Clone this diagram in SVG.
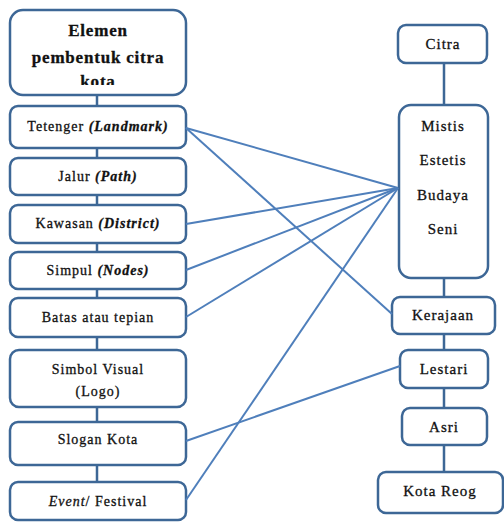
<svg xmlns="http://www.w3.org/2000/svg" width="504" height="522" viewBox="0 0 504 522">
<style>
.box{fill:#fff;stroke:#3d6796;stroke-width:2.5}
.tree{stroke:#3d6796;stroke-width:2.5;fill:none}
.link{stroke:#4f7fbb;stroke-width:2;fill:none}
text{font-family:"Liberation Serif","Times New Roman",serif;fill:#111;stroke:#111;stroke-width:0.3;text-anchor:middle}
.l{font-size:14px;letter-spacing:1px}
.r{font-size:15px;letter-spacing:1px}
.t{font-size:17px;font-weight:bold;letter-spacing:0.8px}
.bi{font-style:italic;font-weight:bold}
.i{font-style:italic}
</style>
<defs>
<clipPath id="tc"><rect x="10" y="10" width="176" height="75"/></clipPath>
</defs>
<g id="tree-lines">
<line class="tree" x1="97" y1="95" x2="97" y2="482"/>
<line class="tree" x1="444" y1="63" x2="444" y2="472"/>
</g>
<g id="title"><rect class="box" x="10" y="10" width="176" height="85" rx="13"/>
<g clip-path="url(#tc)"><text class="t" x="98" y="36">Elemen</text><text class="t" x="98" y="63">pembentuk citra</text><text class="t" x="98" y="87">kota</text></g></g>
<g id="tetenger"><rect class="box" x="10" y="106" width="176" height="42" rx="8"/><text class="l" x="98" y="131">Tetenger <tspan class="bi">(Landmark)</tspan></text></g>
<g id="jalur"><rect class="box" x="10" y="158" width="176" height="37" rx="8"/><text class="l" x="98" y="181">Jalur <tspan class="bi">(Path)</tspan></text></g>
<g id="kawasan"><rect class="box" x="10" y="205" width="176" height="38" rx="8"/><text class="l" x="98" y="228">Kawasan <tspan class="bi">(District)</tspan></text></g>
<g id="simpul"><rect class="box" x="10" y="252" width="176" height="37" rx="8"/><text class="l" x="98" y="275">Simpul <tspan class="bi">(Nodes)</tspan></text></g>
<g id="batas"><rect class="box" x="10" y="298" width="176" height="39" rx="8"/><text class="l" x="98" y="322">Batas atau tepian</text></g>
<g id="simbol"><rect class="box" x="10" y="350" width="176" height="57" rx="9"/><text class="l" x="98" y="374">Simbol Visual</text><text class="l" x="98" y="396">(Logo)</text></g>
<g id="slogan"><rect class="box" x="10" y="422" width="176" height="43" rx="8"/><text class="l" x="98" y="444">Slogan Kota</text></g>
<g id="event"><rect class="box" x="10" y="482" width="176" height="38" rx="8"/><text class="l" x="98" y="506"><tspan class="i">Event</tspan>/ Festival</text></g>
<g id="citra"><rect class="box" x="398" y="25" width="89" height="38" rx="8"/><text class="r" x="443" y="49">Citra</text></g>
<g id="nilai"><rect class="box" x="399" y="105" width="89" height="173" rx="12"/>
<text class="r" x="443" y="131">Mistis</text><text class="r" x="443" y="165">Estetis</text><text class="r" x="443" y="200">Budaya</text><text class="r" x="443" y="234">Seni</text></g>
<g id="kerajaan"><rect class="box" x="392" y="297" width="103" height="37" rx="8"/><text class="r" x="443" y="320">Kerajaan</text></g>
<g id="lestari"><rect class="box" x="400" y="350" width="88" height="38" rx="8"/><text class="r" x="444" y="374">Lestari</text></g>
<g id="asri"><rect class="box" x="402" y="408" width="85" height="37" rx="8"/><text class="r" x="444" y="432">Asri</text></g>
<g id="kotareog"><rect class="box" x="378" y="472" width="125" height="41" rx="8"/><text class="r" x="440" y="496">Kota Reog</text></g>
<g id="connectors">
<line class="link" x1="186" y1="128" x2="398" y2="188"/>
<line class="link" x1="186" y1="128" x2="392" y2="314"/>
<line class="link" x1="186" y1="224" x2="398" y2="188"/>
<line class="link" x1="186" y1="270" x2="398" y2="188"/>
<line class="link" x1="186" y1="317" x2="398" y2="188"/>
<line class="link" x1="186" y1="500" x2="398" y2="188"/>
<line class="link" x1="186" y1="441" x2="400" y2="366"/>
</g>
</svg>
